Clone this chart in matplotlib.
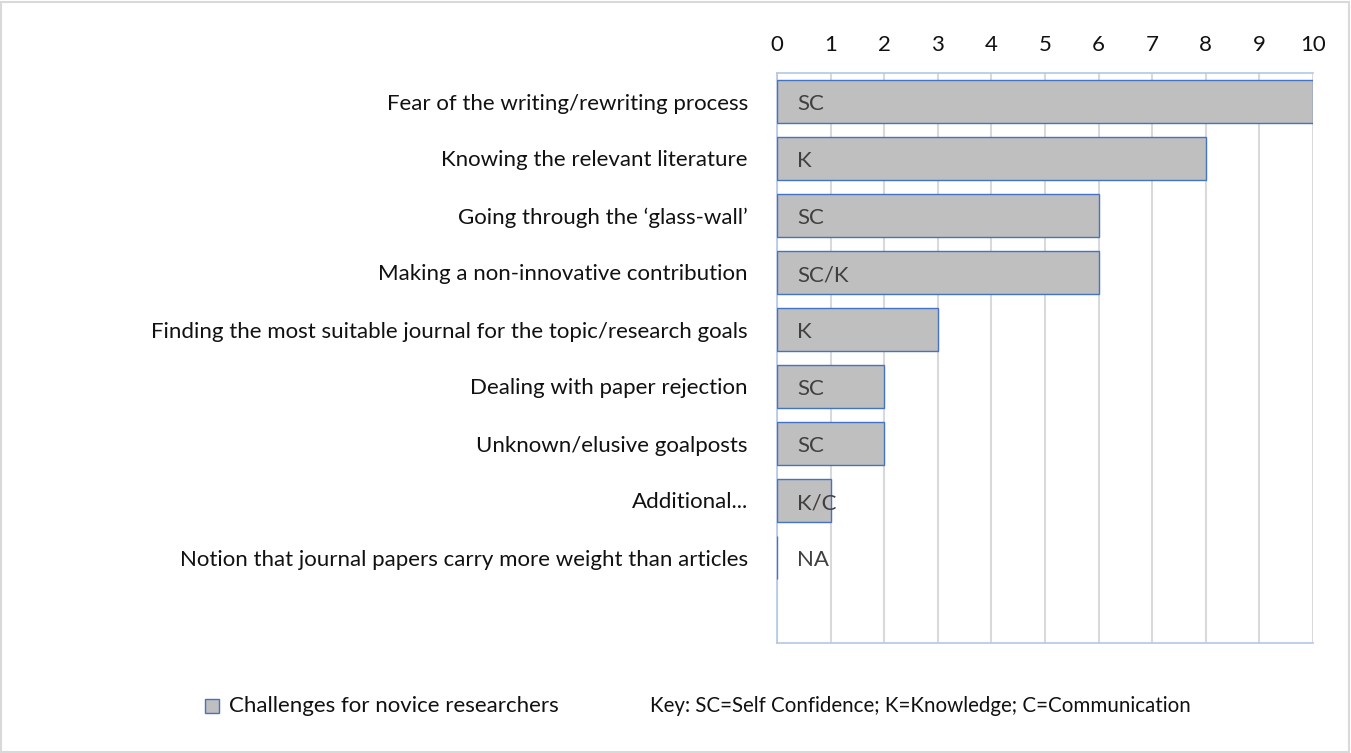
import matplotlib
matplotlib.use("Agg")
import matplotlib.pyplot as plt
from matplotlib.patches import Rectangle

categories = [
    "Fear of the writing/rewriting process",
    "Knowing the relevant literature",
    "Going through the \u2018glass-wall\u2019",
    "Making a non-innovative contribution",
    "Finding the most suitable journal for the topic/research goals",
    "Dealing with paper rejection",
    "Unknown/elusive goalposts",
    "Additional...",
    "Notion that journal papers carry more weight than articles",
    "",
]
values = [10, 8, 6, 6, 3, 2, 2, 1, 0, None]
codes = ["SC", "K", "SC", "SC/K", "K", "SC", "SC", "K/C", "NA", ""]
series_name = "Challenges for novice researchers"
key_text = "Key: SC=Self Confidence; K=Knowledge; C=Communication"
x_ticks = list(range(0, 11))

FONT = "Lato"
FS = 16
TEXT = "#111111"
INNER = "#404040"
BAR = "#BFBFBF"
EDGE = "#4472C4"
AXIS = "#B4C6E7"
GRID = "#D9D9D9"

W, H = 1351, 753
fig = plt.figure(figsize=(W / 100, H / 100), dpi=100)
fig.patch.set_facecolor("white")

# chart-area border
fig.add_artist(Rectangle((1 / W, 1 / H), 1 - 3 / W, 1 - 3 / H, transform=fig.transFigure,
                         fill=False, edgecolor="#D9D9D9", linewidth=1.5))

ax = fig.add_axes([777 / W, 1 - 643 / H, (1313 - 777) / W, (643 - 73) / H])
n = len(categories)
ys = list(range(n))
for y, v, c in zip(ys, values, codes):
    if v is None:
        continue
    ax.barh(y, v, height=0.74, color=BAR, edgecolor=EDGE, linewidth=1.0, zorder=3)
    ax.text(0.37, y + 0.05, c, ha="left", va="center", fontsize=FS, family=FONT,
            color=INNER, zorder=4)

ax.set_xlim(0, 10)
ax.set_ylim(n - 0.5, -0.5)
ax.set_xticks(x_ticks)
ax.set_xticklabels([str(t) for t in x_ticks], fontsize=FS, family=FONT, color=TEXT)
ax.xaxis.tick_top()
ax.tick_params(axis="x", length=0, pad=13)
ax.set_yticks(ys)
ax.set_yticklabels(categories, fontsize=FS, family=FONT, color=TEXT)
ax.tick_params(axis="y", length=0, pad=21)
ax.grid(axis="x", color=GRID, linewidth=1.5, zorder=0)
ax.set_axisbelow(True)
for side in ("left", "top", "bottom"):
    ax.spines[side].set_color(AXIS)
    ax.spines[side].set_linewidth(1.2)
ax.spines["right"].set_visible(False)

# legend row
fig.add_artist(Rectangle((205 / W, 1 - 713 / H), 14 / W, 14 / H, transform=fig.transFigure,
                         facecolor=BAR, edgecolor=EDGE, linewidth=1.0))
fig.text(229 / W, 1 - 706 / H, series_name, ha="left", va="center", fontsize=FS,
         family=FONT, color=TEXT)
fig.text(650 / W, 1 - 706 / H, key_text, ha="left", va="center", fontsize=14.8,
         family=FONT, color=TEXT)

fig.savefig("out.png", dpi=100)
